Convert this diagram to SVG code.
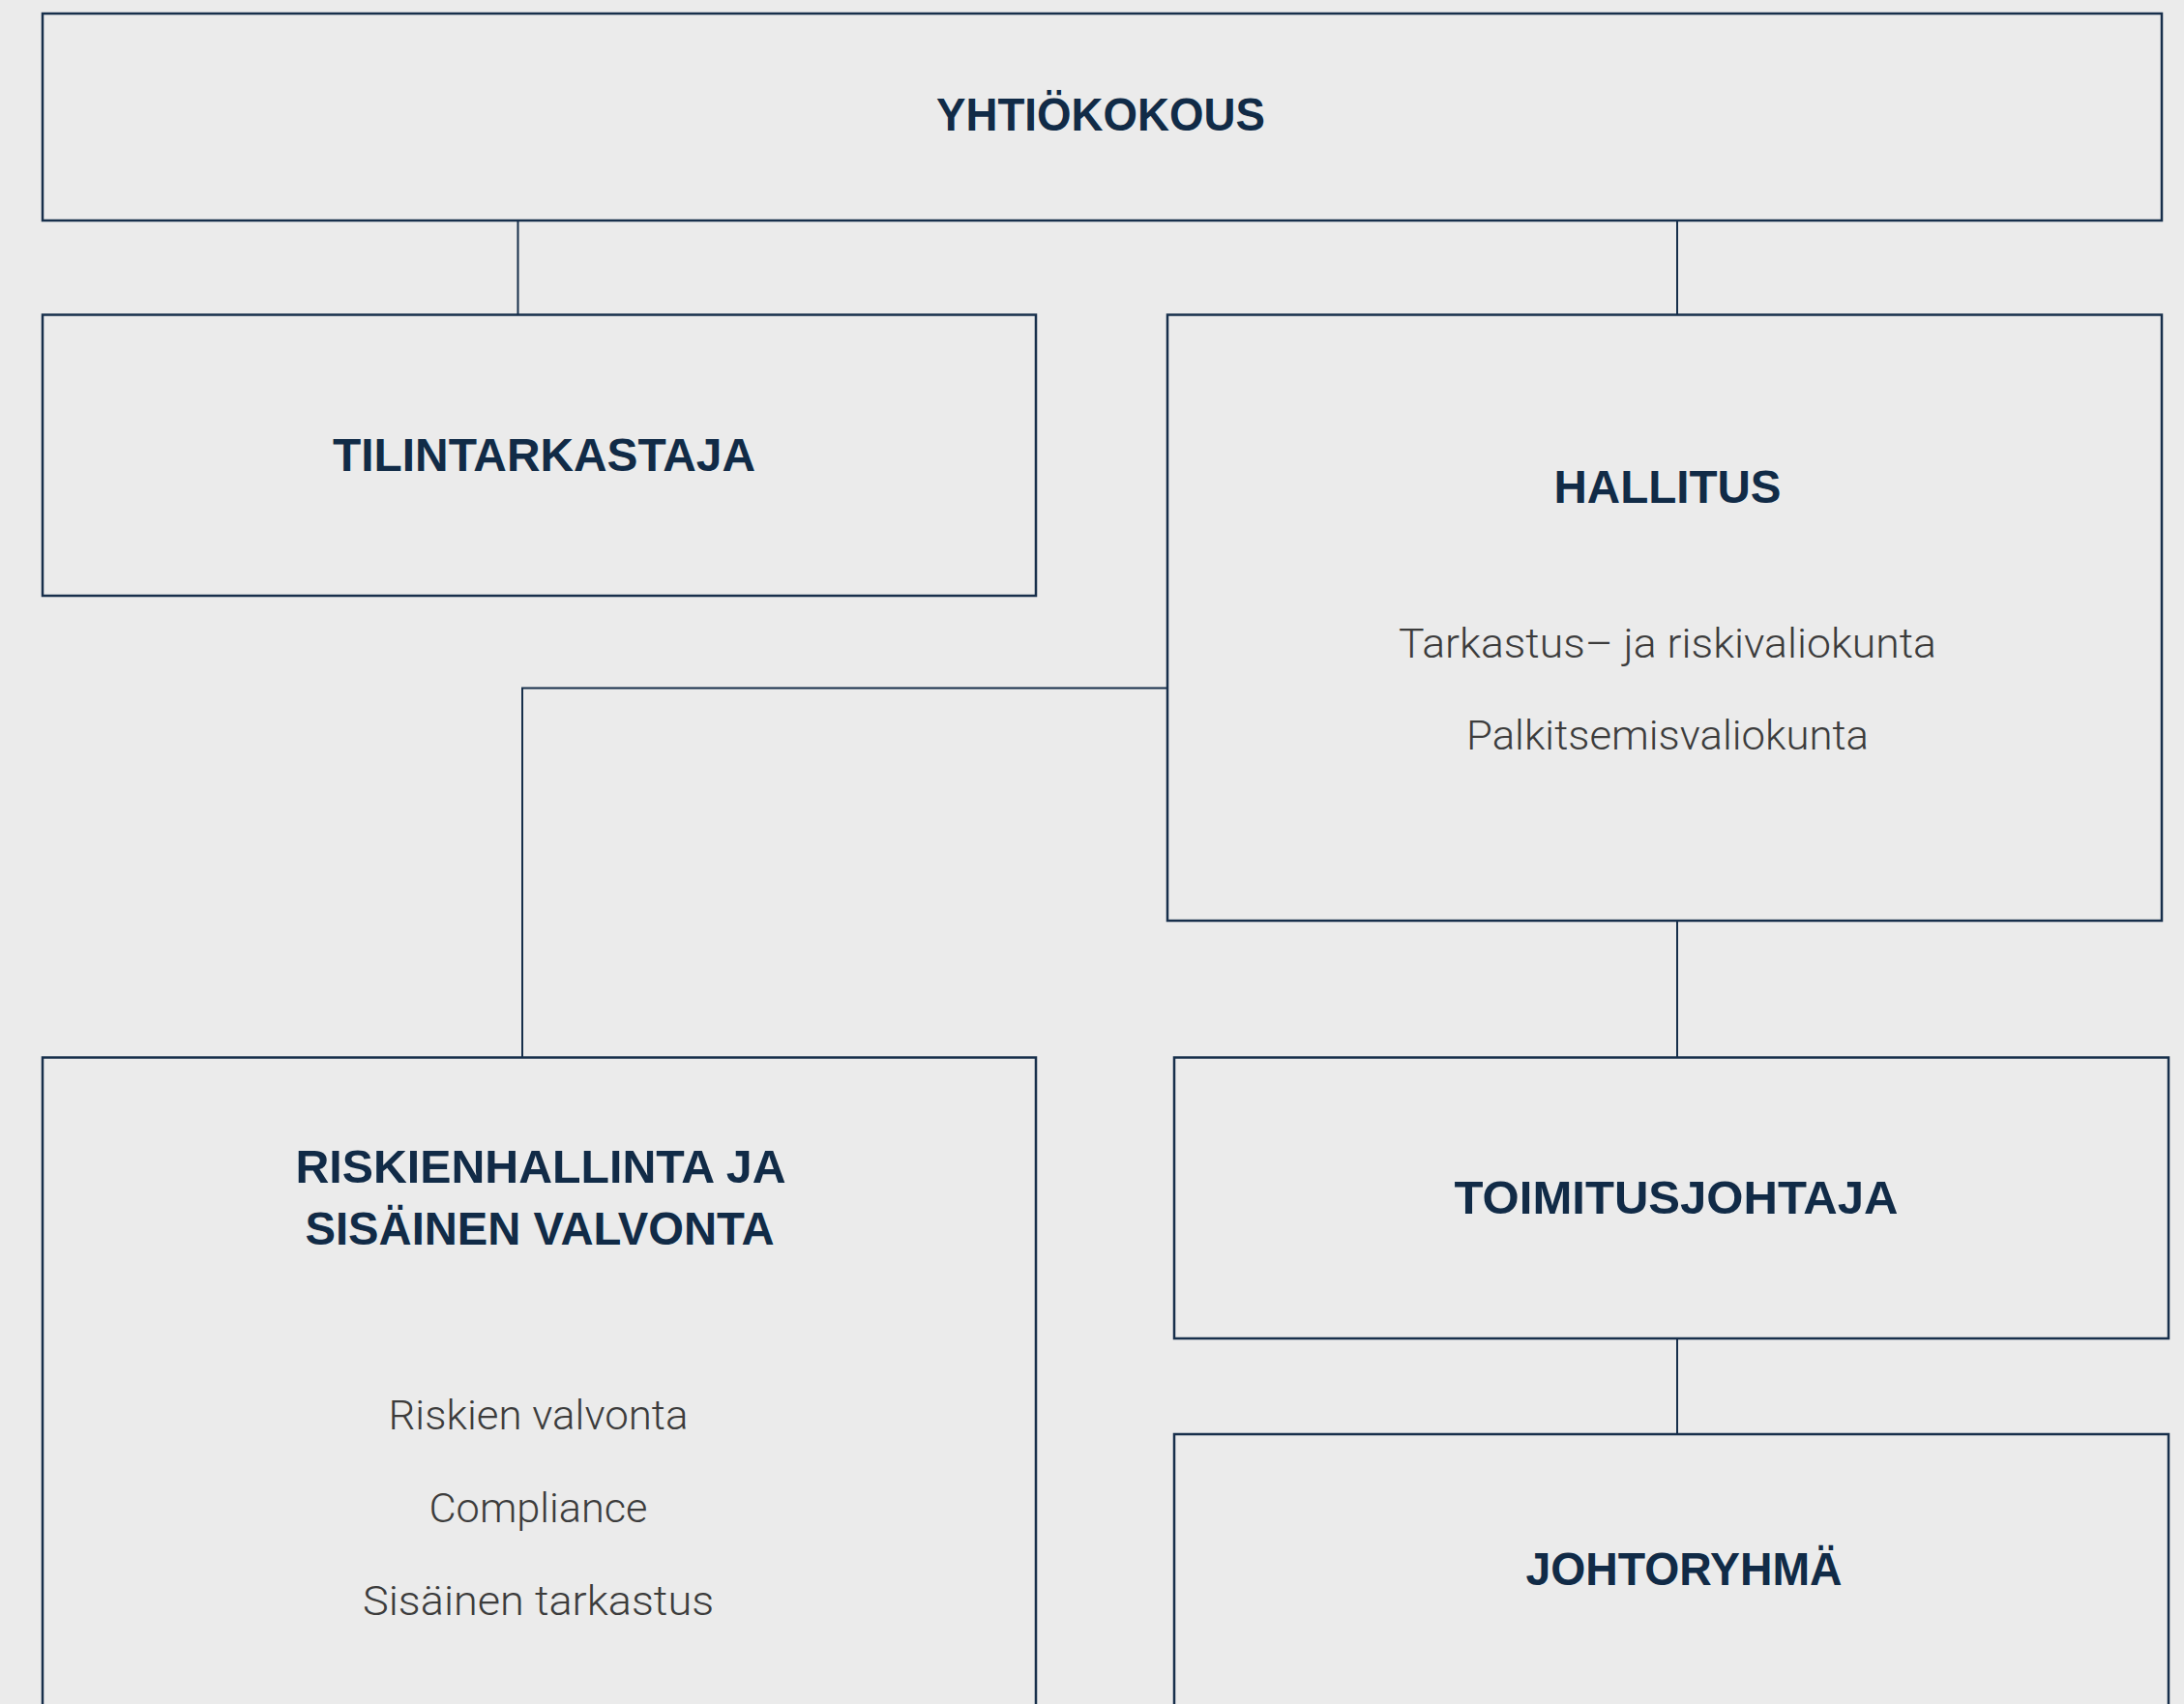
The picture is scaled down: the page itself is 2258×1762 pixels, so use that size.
<svg xmlns="http://www.w3.org/2000/svg" width="2258" height="1762" viewBox="0 0 2258 1762">
<style>
.box{fill:#ebebeb;stroke:#172f4b;stroke-width:2.5}
.con{fill:none;stroke:#172f4b;stroke-width:2}
.t{font-family:"Liberation Sans",Arial,sans-serif;font-weight:700;font-size:48px;fill:#112b47;text-anchor:middle}
.s{font-family:Roboto,"Liberation Sans",sans-serif;font-weight:300;font-size:42px;fill:#3c3c3c;text-anchor:middle}
</style>
<rect width="2258" height="1762" fill="#ebebeb"/>
<g id="connectors">
<line class="con" x1="535.5" y1="228" x2="535.5" y2="325.5"/>
<line class="con" x1="1734" y1="228" x2="1734" y2="325.5"/>
<polyline class="con" points="1207,711.5 540,711.5 540,1093.5"/>
<line class="con" x1="1734" y1="952" x2="1734" y2="1093.5"/>
<line class="con" x1="1734" y1="1384" x2="1734" y2="1483"/>
</g>
<g id="yhtiokokous">
<rect class="box" x="44" y="14" width="2191" height="214"/>
<text class="t" x="1138" y="135" textLength="340" lengthAdjust="spacingAndGlyphs">YHTIÖKOKOUS</text>
</g>
<g id="tilintarkastaja">
<rect class="box" x="44" y="325.5" width="1027" height="290.5"/>
<text class="t" x="562.5" y="487" textLength="437" lengthAdjust="spacingAndGlyphs">TILINTARKASTAJA</text>
</g>
<g id="hallitus">
<rect class="box" x="1207" y="325.5" width="1028" height="626.5"/>
<text class="t" x="1724" y="520" textLength="235" lengthAdjust="spacingAndGlyphs">HALLITUS</text>
<text class="s" x="1724" y="680" textLength="556" lengthAdjust="spacingAndGlyphs">Tarkastus– ja riskivaliokunta</text>
<text class="s" x="1724" y="775" textLength="416" lengthAdjust="spacingAndGlyphs">Palkitsemisvaliokunta</text>
</g>
<g id="riskienhallinta">
<rect class="box" x="44" y="1093.5" width="1027" height="700"/>
<text class="t" x="559" y="1223" textLength="507" lengthAdjust="spacingAndGlyphs">RISKIENHALLINTA JA</text>
<text class="t" x="558" y="1287" textLength="485" lengthAdjust="spacingAndGlyphs">SISÄINEN VALVONTA</text>
<text class="s" x="556.5" y="1478" textLength="310" lengthAdjust="spacingAndGlyphs">Riskien valvonta</text>
<text class="s" x="556.5" y="1574" textLength="226" lengthAdjust="spacingAndGlyphs">Compliance</text>
<text class="s" x="556.5" y="1670" textLength="363" lengthAdjust="spacingAndGlyphs">Sisäinen tarkastus</text>
</g>
<g id="toimitusjohtaja">
<rect class="box" x="1214" y="1093.5" width="1028" height="290.5"/>
<text class="t" x="1733" y="1255" textLength="459" lengthAdjust="spacingAndGlyphs">TOIMITUSJOHTAJA</text>
</g>
<g id="johtoryhma">
<rect class="box" x="1214" y="1483" width="1028" height="400"/>
<text class="t" x="1741" y="1639" textLength="327" lengthAdjust="spacingAndGlyphs">JOHTORYHMÄ</text>
</g>
</svg>
